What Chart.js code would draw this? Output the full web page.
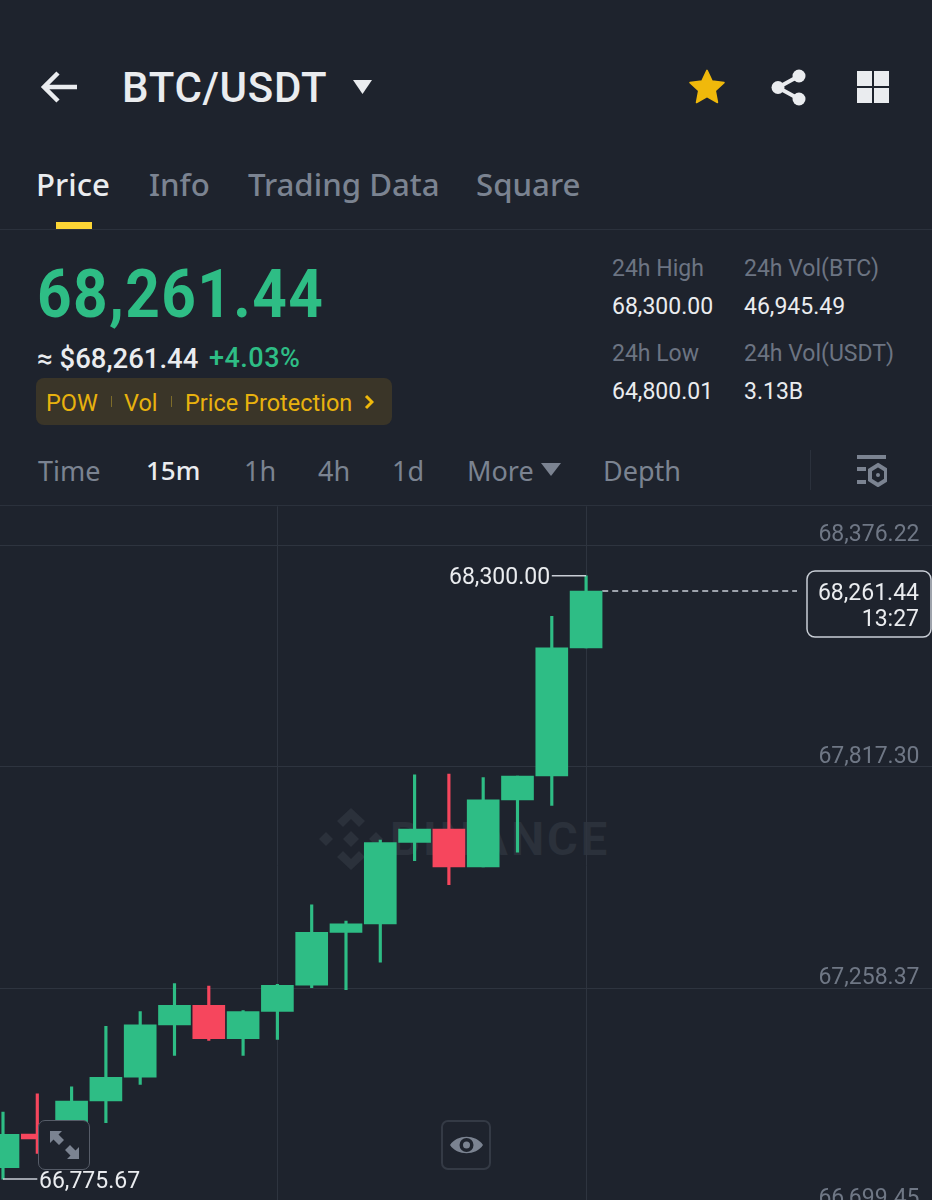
<!DOCTYPE html>
<html>
<head>
<meta charset="utf-8">
<title>BTC/USDT</title>
<script src="https://cdn.jsdelivr.net/npm/chart.js@4/dist/chart.umd.min.js"></script>
<style>
    html, body { margin: 0; padding: 0; background: #1e232d; }
    #page { position: relative; width: 932px; height: 1200px; overflow: hidden; background: #1e232d; font-family: "Noto Sans", sans-serif; }
    #page span { position: absolute; white-space: nowrap; transform: translateY(-50%); line-height: 1.2; }
    #page svg, #page .box { position: absolute; }
    .line { position: absolute; background: #2b313c; }
    .tab { font-size: 31.2px; color: #7b8391; font-weight: 500; }
    .iv { font-size: 27px; color: #7b8391; }
    .lbl { font-size: 23px; color: #6c7482; font-family: Roboto, sans-serif; }
    .val { font-size: 23px; color: #eaecef; font-family: Roboto, sans-serif; }
    .gold { font-size: 23.5px; color: #e8b20e; font-family: Roboto, sans-serif; }
    #chart { position: absolute; left: 0; top: 505px; }
    #mark { position: absolute; left: 318px; top: 806px; width: 300px; height: 66px; }
    .btn { position: absolute; top: 1120px; height: 50px; border-radius: 7px; background: #1e232d; box-sizing: border-box; }
</style>
</head>
<body>
<div id="page">
    <!-- header -->
    <svg style="left:40px;top:70px" width="40" height="34" viewBox="0 0 40 34"><path d="M18 3 L4 17 L18 31 M4 17 H37" fill="none" stroke="#eaecef" stroke-width="4.5"/></svg>
    <span style="left:122px;top:88px;font-size:42px;font-weight:500;color:#eaecef;font-family:Roboto;letter-spacing:0.7px">BTC/USDT</span>
    <svg style="left:353px;top:79px" width="20" height="16"><path d="M0 1 H19 L9.5 15 Z" fill="#eaecef"/></svg>
    <svg style="left:688px;top:68px" width="38" height="38" viewBox="0 0 24 24"><path d="M12 1.5 L15.2 8.3 L22.7 9.2 L17.2 14.3 L18.6 21.8 L12 18.1 L5.4 21.8 L6.8 14.3 L1.3 9.2 L8.8 8.3 Z" fill="#f0b90b" stroke="#f0b90b" stroke-linejoin="round"/></svg>
    <svg style="left:771px;top:69px" width="36" height="37" viewBox="0 0 36 37"><circle cx="7" cy="18.5" r="6.5" fill="#eaecef"/><circle cx="28" cy="7" r="6.5" fill="#eaecef"/><circle cx="28" cy="30" r="6.5" fill="#eaecef"/><path d="M7 18.5 L28 7 M7 18.5 L28 30" stroke="#eaecef" stroke-width="4"/></svg>
    <svg style="left:857px;top:71px" width="32" height="32"><rect width="15" height="15" fill="#eaecef"/><rect x="17" width="15" height="15" fill="#eaecef"/><rect y="17" width="15" height="15" fill="#eaecef"/><rect x="17" y="17" width="15" height="15" fill="#eaecef"/></svg>

    <span class="tab" style="left:36px;top:185px;color:#eaecef">Price</span>
    <span class="tab" style="left:149px;top:185px">Info</span>
    <span class="tab" style="left:248px;top:185px">Trading Data</span>
    <span class="tab" style="left:476px;top:185px">Square</span>
    <div style="position:absolute;left:56px;top:222px;width:36px;height:7px;background:#fcd535"></div>
    <div class="line" style="left:0;top:229px;width:932px;height:1px"></div>

    <!-- price block -->
    <span style="left:37px;top:295px;font-size:66px;font-weight:700;color:#2ebd85;font-family:Roboto;letter-spacing:1.5px;transform-origin:left center;transform:translateY(-50%) scaleX(0.915)">68,261.44</span>
    <span style="left:37px;top:358px;font-size:27.5px;color:#eaecef;font-family:Roboto;font-weight:500">≈ $68,261.44</span>
    <span style="left:209px;top:358px;font-size:27px;color:#2ebd85;font-family:Roboto;font-weight:500;letter-spacing:0.5px">+4.03%</span>
    <div style="position:absolute;left:36px;top:378px;width:356px;height:47px;border-radius:8px;background:#3a3528"></div>
    <span class="gold" style="left:46px;top:403px">POW</span>
    <div style="position:absolute;left:111px;top:396px;width:1px;height:11px;background:#7d6c2a"></div>
    <span class="gold" style="left:124px;top:403px">Vol</span>
    <div style="position:absolute;left:171px;top:396px;width:1px;height:11px;background:#7d6c2a"></div>
    <span class="gold" style="left:185px;top:403px">Price Protection</span>
    <svg style="left:364px;top:394px" width="10" height="16"><path d="M2 2 L8 8 L2 14" fill="none" stroke="#f0b90b" stroke-width="3"/></svg>

    <span class="lbl" style="left:612px;top:269px">24h High</span>
    <span class="val" style="left:612px;top:307px">68,300.00</span>
    <span class="lbl" style="left:744px;top:269px">24h Vol(BTC)</span>
    <span class="val" style="left:744px;top:307px">46,945.49</span>
    <span class="lbl" style="left:612px;top:354px">24h Low</span>
    <span class="val" style="left:612px;top:392px">64,800.01</span>
    <span class="lbl" style="left:744px;top:354px">24h Vol(USDT)</span>
    <span class="val" style="left:744px;top:392px">3.13B</span>

    <!-- intervals -->
    <span class="iv" style="left:38px;top:471px">Time</span>
    <span class="iv" style="left:146px;top:471px;color:#eaecef;font-weight:500;font-size:26px">15m</span>
    <span class="iv" style="left:244px;top:471px">1h</span>
    <span class="iv" style="left:318px;top:471px">4h</span>
    <span class="iv" style="left:392px;top:471px">1d</span>
    <span class="iv" style="left:467px;top:471px">More</span>
    <svg style="left:541px;top:463px" width="20" height="14"><path d="M0 0 H20 L10 13 Z" fill="#7b8391"/></svg>
    <span class="iv" style="left:603px;top:471px">Depth</span>
    <div class="line" style="left:810px;top:450px;width:1px;height:40px"></div>
    <svg style="left:856px;top:455px" width="31" height="32" viewBox="0 0 31 32"><rect x="1" y="0" width="29" height="4" fill="#7b8391"/><rect x="1" y="12" width="9" height="4" fill="#7b8391"/><rect x="1" y="25" width="9" height="4" fill="#7b8391"/><path d="M22 10 L30 15 V25 L22 30 L14 25 V15 Z" fill="none" stroke="#7b8391" stroke-width="4"/><circle cx="22" cy="20" r="2" fill="#7b8391"/></svg>
    <div class="line" style="left:0;top:505px;width:932px;height:1px"></div>

    <!-- watermark sits behind the canvas -->
    <div id="mark">
        <svg style="left:0;top:2px" width="66" height="62" viewBox="0 0 66 62" fill="#2b313b">
            <path d="M33 0 L47 13 L41 19 L33 11 L25 19 L19 13 Z"/>
            <path d="M33 62 L47 49 L41 43 L33 51 L25 43 L19 49 Z"/>
            <path d="M33 23 L41 31 L33 39 L25 31 Z"/>
            <path d="M8 24 L15 31 L8 38 L1 31 Z"/>
            <path d="M58 24 L65 31 L58 38 L51 31 Z"/>
        </svg>
        <span style="left:72px;top:33px;font-size:47px;font-weight:700;color:#2b313b;font-family:Roboto;letter-spacing:3px">BINANCE</span>
    </div>

    <canvas id="chart" width="932" height="720"></canvas>

    <div class="btn" style="left:38px;width:52px;border:1.5px solid #565c68">
        <svg style="left:10px;top:9px" width="31" height="30" viewBox="0 0 31 30" fill="#7b8391"><path d="M1 1 H13 L9.5 4.5 L15 10 L10 15 L4.5 9.5 L1 13 Z"/><path d="M30 29 H18 L21.5 25.5 L16 20 L21 15 L26.5 20.5 L30 17 Z"/></svg>
    </div>
    <div class="btn" style="left:441px;width:50px;border:2px solid #343a45">
        <svg style="left:6px;top:10px" width="35" height="26" viewBox="0 0 35 26"><path d="M1 13 C8 2 27 2 34 13 C27 24 8 24 1 13 Z" fill="#7b8391"/><circle cx="17.5" cy="13" r="7" fill="#1e232d"/><circle cx="17.5" cy="13" r="3.5" fill="#7b8391"/></svg>
    </div>
</div>

<script>
// 15m candles, oldest first
const candleIndex = [0, 1, 2, 3, 4, 5, 6, 7, 8, 9, 10, 11, 12, 13, 14, 15, 16, 17];
const opens  = [66804.4, 66889.5, 66877.0, 66973.1, 67033.0, 67165.5, 67214.8, 67130.5, 67199.2, 67265.9, 67399.1, 67420.7, 67626.2, 67659.9, 67564.3, 67733.7, 67794.1, 68118.1];
const closes = [66888.8, 66876.9, 66973.1, 67033.0, 67165.5, 67214.8, 67130.5, 67199.2, 67265.4, 67399.1, 67420.7, 67626.2, 67659.9, 67564.3, 67733.7, 67794.1, 68118.1, 68261.44];
const highs  = [66944.9, 66991.2, 67009.1, 67161.9, 67199.2, 67269.7, 67263.2, 67201.7, 67267.7, 67468.6, 67427.3, 67632.2, 67797.1, 67799.2, 67790.1, 67794.1, 68197.9, 68300.0];
const lows   = [66775.67, 66840.4, 66871.9, 66918.0, 67014.7, 67088.4, 67126.2, 67088.4, 67128.7, 67259.6, 67254.6, 67323.8, 67580.1, 67519.4, 67564.3, 67602.0, 67719.6, 68118.1];

const priceTicks = [68376.22, 67817.30, 67258.37, 66699.45];
const timeTicks = [8, 17];

const UP = '#2ebd85';
const DOWN = '#f6465d';
const LEADER = '#c9ced6';

const money = v => v.toLocaleString('en-US', { minimumFractionDigits: 2, maximumFractionDigits: 2 });
const candleColors = opens.map((o, i) => closes[i] >= o ? UP : DOWN);
const lastClose = closes[closes.length - 1];
const lastIndex = candleIndex[candleIndex.length - 1];
const highest = Math.max(...highs);
const lowest = Math.min(...lows);

// text that hangs off the marks, placed through the scales
const chartLabels = {
    id: 'chartLabels',
    afterDatasetsDraw(chart) {
        const { ctx, scales: { x, y } } = chart;
        ctx.save();
        ctx.font = '23px Roboto';
        ctx.textBaseline = 'middle';

        ctx.fillStyle = '#eaecef';
        ctx.textAlign = 'right';
        ctx.fillText(money(highest), x.getPixelForValue(15.95), y.getPixelForValue(highest) + 2);
        ctx.textAlign = 'left';
        ctx.fillText(money(lowest), x.getPixelForValue(1.05), y.getPixelForValue(lowest) + 3);

        // countdown box on the last price
        const top = y.getPixelForValue(lastClose) - 20;
        ctx.beginPath();
        ctx.roundRect(807, top, 124, 66, 8);
        ctx.fillStyle = '#1e232d';
        ctx.fill();
        ctx.strokeStyle = LEADER;
        ctx.lineWidth = 1.5;
        ctx.stroke();
        ctx.fillStyle = '#eaecef';
        ctx.textAlign = 'right';
        ctx.fillText(money(lastClose), 919, top + 23);
        ctx.fillText('13:27', 919, top + 49);
        ctx.restore();
    }
};

new Chart(document.getElementById('chart'), {
    type: 'bar',
    data: {
        datasets: [
            {
                label: 'Wick',
                data: candleIndex.map(i => ({ x: i, y: [lows[i], highs[i]] })),
                backgroundColor: candleColors,
                barThickness: 2.5,
                grouped: false,
                order: 2
            },
            {
                label: 'Body',
                data: candleIndex.map(i => ({ x: i, y: [opens[i], closes[i]] })),
                backgroundColor: candleColors,
                barThickness: 32,
                grouped: false,
                order: 1
            },
            {
                type: 'line',
                label: 'Last price',
                data: [{ x: lastIndex + 0.47, y: lastClose }, { x: lastIndex + 6.15, y: lastClose }],
                borderColor: LEADER,
                borderWidth: 1.5,
                borderDash: [6, 4],
                pointRadius: 0,
                order: 3
            },
            {
                type: 'line',
                label: 'High',
                data: [{ x: 16, y: highest }, { x: lastIndex, y: highest }],
                borderColor: LEADER,
                borderWidth: 1.5,
                pointRadius: 0,
                order: 0
            },
            {
                type: 'line',
                label: 'Low',
                data: [{ x: 0, y: lowest }, { x: 1, y: lowest }],
                borderColor: LEADER,
                borderWidth: 1.5,
                pointRadius: 0,
                order: 0
            }
        ]
    },
    options: {
        responsive: false,
        animation: false,
        layout: { padding: 0, autoPadding: false },
        plugins: {
            legend: { display: false },
            tooltip: { enabled: false }
        },
        scales: {
            x: {
                type: 'linear',
                offset: false,
                min: -0.0875,
                max: 27.085,
                border: { display: false },
                grid: { color: '#2e343f', lineWidth: 1, drawTicks: false, offset: false },
                ticks: { display: false },
                afterBuildTicks: scale => { scale.ticks = timeTicks.map(v => ({ value: v })); },
                afterFit: scale => { scale.height = 0; }
            },
            y: {
                position: 'right',
                min: 66662.95,
                max: 68475.67,
                border: { display: false },
                grid: { color: '#2e343f', lineWidth: 1, drawTicks: false },
                ticks: {
                    mirror: true,
                    padding: -12.5,
                    labelOffset: -10,
                    color: '#6f7785',
                    font: { family: 'Roboto', size: 23 },
                    callback: v => money(v)
                },
                afterBuildTicks: scale => { scale.ticks = priceTicks.map(v => ({ value: v })); },
                afterFit: scale => { scale.width = 0; }
            }
        }
    },
    plugins: [chartLabels]
});
</script>
</body>
</html>
